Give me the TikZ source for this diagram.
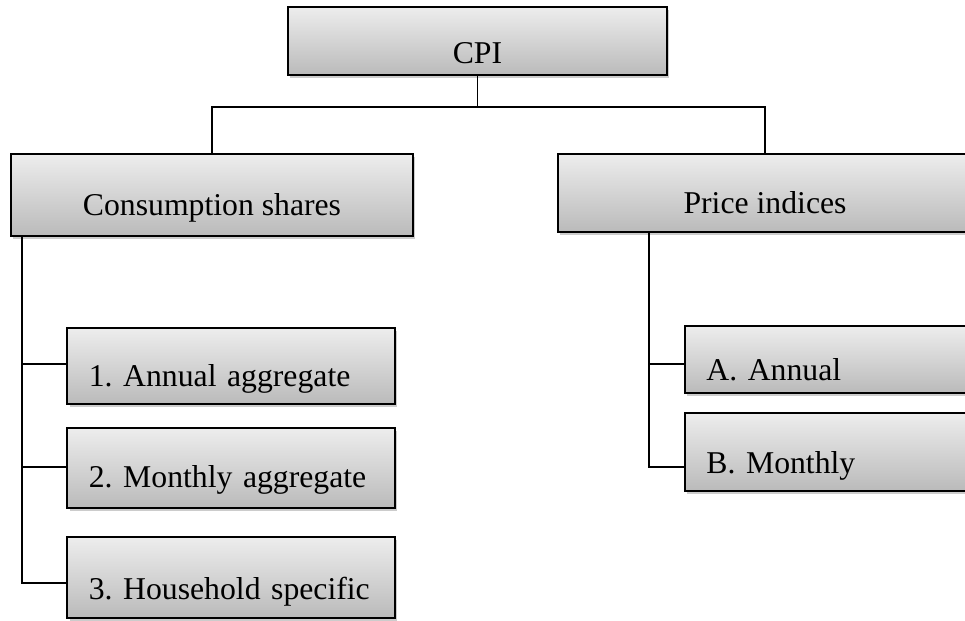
\documentclass[tikz,border=0pt]{standalone}
\usepackage{fontspec}
\setmainfont{Liberation Serif}
\usetikzlibrary{shadows}

\tikzset{
  box/.style={draw=black, line width=1.4pt, top color=black!7, bottom color=black!27,
    inner xsep=4pt, inner ysep=0pt, font=\fontsize{22.2}{26}\selectfont\frenchspacing,
    drop shadow={shadow xshift=1.5pt, shadow yshift=-2pt, fill=black!40, opacity=0.5}},
  subbox/.style={box, align=left, inner xsep=15pt},
  link/.style={line width=1pt},
}

\begin{document}
\begin{tikzpicture}[x=0.7pt, y=-0.7pt]
        % --- 描画範囲 ---
        \useasboundingbox (0,0) rectangle (965,620);
        \clip (0,0) rectangle (965,620);

        % --- 上段のボックス ---
        \node[box, minimum width=265.3pt, text height=39.2pt, text depth=8.4pt] (cpi) at (477.5,41) {CPI};
        \node[box, minimum width=281.4pt, text height=42.7pt, text depth=14.7pt] (cons) at (212,195) {Consumption shares};
        \node[box, minimum width=289.8pt, text height=41.3pt, text depth=13.3pt] (price) at (765,193) {Price indices};

        % --- 下段のボックス ---
        % 左側
        \foreach \name/\y/\hgt/\dpt/\txt in {ann/366/40.6/12.6/{1. Annual aggregate}, mon/468/41.3/14.7/{2. Monthly aggregate}, hh/577.5/43.4/13.3/{3. Household specific}} {
            \node[subbox, text width=199pt, text height=\hgt pt, text depth=\dpt pt] (\name) at (231,\y) {\mbox{\txt}};
        }
        % 右側
        \node[subbox, text width=173pt, text height=37.8pt, text depth=9.1pt] (a) at (830,359.5) {A. Annual};
        \node[subbox, text width=173pt, text height=42pt, text depth=12.6pt] (b) at (830,452) {B. Monthly};

        % --- 接続線 ---
        \coordinate (jn) at (477.5,107);
        \draw[link] (cpi.south) -- (jn);
        \draw[link] (cons.north) |- (jn) -| (price.north);

        % 左の幹
        \coordinate (lt) at ([xshift=8.4pt]cons.south west);
        \draw[link] (lt) |- ([yshift=-3.9pt]hh.west);
        \foreach \n/\s in {ann/1.4pt, mon/0.7pt} {
            \draw[link] ([yshift=\s]\n.west) -| (lt);
        }

        % 右の幹
        \coordinate (rt) at ([xshift=64.4pt]price.south west);
        \draw[link] (rt) |- ([yshift=-10.5pt]b.west);
        \draw[link] ([yshift=-3.1pt]a.west) -| (rt);

\end{tikzpicture}
\end{document}
